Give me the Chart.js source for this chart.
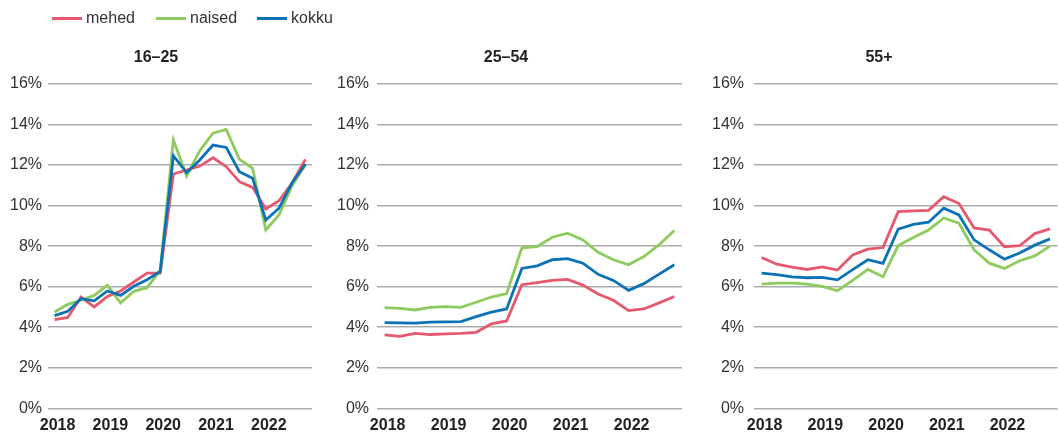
<!DOCTYPE html>
<html>
<head>
<meta charset="utf-8">
<script src="https://cdn.jsdelivr.net/npm/chart.js@4/dist/chart.umd.min.js"></script>
<style>
  html, body { margin: 0; padding: 0; background: #fff; }
  #wrap { position: relative; width: 1058px; height: 435px; overflow: hidden; font-family: "Liberation Sans", Arial, Helvetica, sans-serif; }
  canvas { position: absolute; top: 0; }
  .leg { position: absolute; top: 8px; height: 20px; display: flex; align-items: center; font-size: 16px; color: #333; z-index: 2; }
  .leg span.sw { display: inline-block; width: 30px; height: 3px; margin-right: 4px; }
</style>
</head>
<body>
<div id="wrap">
  <div class="leg" style="left:52px"><span class="sw" style="background:#E5586E"></span>mehed</div>
  <div class="leg" style="left:156px"><span class="sw" style="background:#8DCB5E"></span>naised</div>
  <div class="leg" style="left:257px"><span class="sw" style="background:#0B72B5"></span>kokku</div>
  <canvas id="c1" width="320" height="435" style="left:0px"></canvas>
  <canvas id="c2" width="360" height="435" style="left:330px"></canvas>
  <canvas id="c3" width="358" height="435" style="left:700px"></canvas>
</div>
<script>
// ---- data ----
const categories = [
  '2018 Q1','2018 Q2','2018 Q3','2018 Q4',
  '2019 Q1','2019 Q2','2019 Q3','2019 Q4',
  '2020 Q1','2020 Q2','2020 Q3','2020 Q4',
  '2021 Q1','2021 Q2','2021 Q3','2021 Q4',
  '2022 Q1','2022 Q2','2022 Q3','2022 Q4'
];
const yearLabels = ['2018','2019','2020','2021','2022'];
const yTickValues = [0, 2, 4, 6, 8, 10, 12, 14, 16];
const seriesNames = ['mehed', 'naised', 'kokku'];
const panelTitles = ['16–25', '25–54', '55+'];

const mehed_16_25  = [4.38, 4.48, 5.49, 5.00, 5.52, 5.79, 6.23, 6.67, 6.67, 11.56, 11.75, 11.95, 12.36, 11.92, 11.18, 10.90, 9.83, 10.24, 11.13, 12.28];
const naised_16_25 = [4.75, 5.13, 5.33, 5.57, 6.07, 5.20, 5.77, 5.95, 6.80, 13.24, 11.46, 12.71, 13.57, 13.76, 12.28, 11.84, 8.80, 9.54, 11.00, 12.00];
const kokku_16_25  = [4.57, 4.79, 5.41, 5.30, 5.79, 5.57, 6.02, 6.34, 6.75, 12.46, 11.62, 12.25, 12.99, 12.87, 11.67, 11.35, 9.29, 9.87, 11.13, 12.05];

const mehed_25_54  = [3.62, 3.55, 3.70, 3.64, 3.67, 3.70, 3.75, 4.17, 4.31, 6.10, 6.20, 6.31, 6.36, 6.08, 5.64, 5.33, 4.82, 4.90, 5.20, 5.52];
const naised_25_54 = [4.97, 4.93, 4.85, 4.98, 5.02, 4.98, 5.23, 5.49, 5.66, 7.92, 7.98, 8.44, 8.64, 8.31, 7.70, 7.33, 7.08, 7.49, 8.07, 8.77];
const kokku_25_54  = [4.23, 4.21, 4.20, 4.25, 4.26, 4.28, 4.52, 4.74, 4.90, 6.90, 7.03, 7.33, 7.38, 7.16, 6.61, 6.31, 5.82, 6.15, 6.62, 7.08];

const mehed_55  = [7.44, 7.11, 6.97, 6.85, 6.98, 6.82, 7.56, 7.85, 7.93, 9.70, 9.74, 9.77, 10.44, 10.10, 8.90, 8.79, 7.97, 8.02, 8.62, 8.85];
const naised_55 = [6.13, 6.18, 6.18, 6.13, 6.02, 5.80, 6.31, 6.85, 6.49, 8.03, 8.43, 8.80, 9.39, 9.13, 7.82, 7.16, 6.90, 7.28, 7.52, 8.00];
const kokku_55  = [6.67, 6.59, 6.48, 6.44, 6.46, 6.34, 6.84, 7.33, 7.15, 8.84, 9.07, 9.18, 9.87, 9.54, 8.31, 7.82, 7.36, 7.66, 8.05, 8.36];

// ---- styles ----
const colors = { mehed: '#E5586E', naised: '#8DCB5E', kokku: '#0B72B5' };
const FONT = '"Liberation Sans", Arial, Helvetica, sans-serif';

function makeChart(id, title, m, n, k, yAxisWidth, tickPad, padRight) {
  const data = { mehed: m, naised: n, kokku: k };
  const order = { mehed: 2, naised: 1, kokku: 0 };
  new Chart(document.getElementById(id), {
    type: 'line',
    data: {
      labels: categories,
      datasets: seriesNames.map(name => ({
        label: name,
        data: data[name],
        borderColor: colors[name],
        backgroundColor: colors[name],
        borderWidth: 2.8,
        pointRadius: 0,
        tension: 0,
        fill: false,
        order: order[name]
      }))
    },
    options: {
      responsive: false,
      animation: false,
      events: [],
      layout: { padding: { top: 48.4, right: padRight, bottom: 0, left: 0 } },
      plugins: {
        legend: { display: false },
        tooltip: { enabled: false },
        title: {
          display: true,
          text: title,
          color: '#222',
          font: { family: FONT, size: 16, weight: 'bold' },
          padding: { top: 0, bottom: 16.4 }
        }
      },
      scales: {
        x: {
          type: 'category',
          offset: true,
          grid: { display: false, drawTicks: false },
          border: { display: false },
          ticks: {
            autoSkip: false,
            maxRotation: 0,
            minRotation: 0,
            padding: 8,
            labelOffset: 3,
            color: '#222',
            font: { family: FONT, size: 16, weight: 'bold' },
            callback: function (v, i) {
              return i % 4 === 0 ? yearLabels[i / 4] : '';
            }
          },
          afterFit: s => { s.height = 26.7; }
        },
        y: {
          min: 0,
          max: 16,
          afterBuildTicks: s => { s.ticks = yTickValues.map(v => ({ value: v })); },
          grid: { color: '#ABABAB', lineWidth: 1.5, drawTicks: false },
          border: { display: false },
          ticks: {
            padding: tickPad,
            color: '#333',
            font: { family: FONT, size: 16 },
            callback: v => v + '%'
          },
          afterFit: s => { s.width = yAxisWidth; }
        }
      }
    }
  });
}

makeChart('c1', panelTitles[0], mehed_16_25, naised_16_25, kokku_16_25, 48, 6, 8);
makeChart('c2', panelTitles[1], mehed_25_54, naised_25_54, kokku_25_54, 47, 8, 8);
makeChart('c3', panelTitles[2], mehed_55, naised_55, kokku_55, 54, 10, 0);
</script>
</body>
</html>
